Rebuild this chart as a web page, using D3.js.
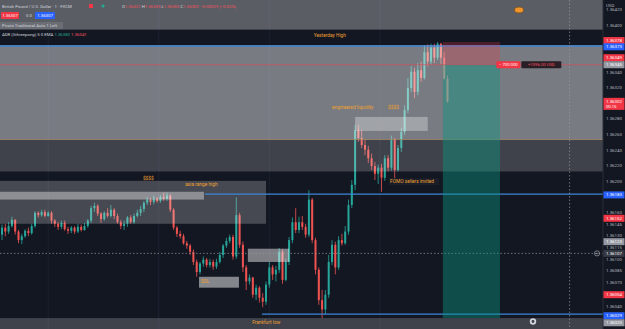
<!DOCTYPE html>
<html><head><meta charset="utf-8">
<script src="https://cdn.jsdelivr.net/npm/d3@7"></script>
<style>body{margin:0;background:#131722;overflow:hidden}svg{display:block;font-family:Roboto,"Noto Sans",sans-serif}</style>
</head><body><svg id="c" width="625" height="329"></svg>
<script>
const open=[1.36131,1.36140,1.36135,1.36142,1.36150,1.36135,1.36124,1.36129,1.36136,1.36133,
1.36142,1.36159,1.36156,1.36160,1.36155,1.36159,1.36149,1.36145,1.36141,1.36146,
1.36138,1.36136,1.36140,1.36135,1.36141,1.36137,1.36142,1.36149,1.36165,1.36168,
1.36158,1.36151,1.36159,1.36155,1.36163,1.36155,1.36147,1.36142,1.36145,1.36153,
1.36147,1.36155,1.36159,1.36164,1.36172,1.36176,1.36173,1.36177,1.36174,1.36179,
1.36177,1.36181,1.36163,1.36140,1.36132,1.36129,1.36120,1.36117,1.36109,1.36096,
1.36083,1.36094,1.36099,1.36092,1.36096,1.36090,1.36096,1.36105,1.36117,1.36123,
1.36128,1.36103,1.36156,1.36118,1.36089,1.36071,1.36076,1.36054,1.36063,1.36050,
1.36045,1.36067,1.36089,1.36080,1.36086,1.36109,1.36073,1.36096,1.36124,1.36147,
1.36137,1.36147,1.36141,1.36131,1.36176,1.36124,1.36086,1.36047,1.36035,1.36054,
1.36096,1.36118,1.36089,1.36124,1.36120,1.36135,1.36169,1.36195,1.36265,1.36255,
1.36246,1.36240,1.36229,1.36219,1.36209,1.36217,1.36204,1.36229,1.36217,1.36253,
1.36214,1.36242,1.36263,1.36291,1.36319,1.36340,1.36314,1.36342,1.36332,1.36365,
1.36353,1.36371,1.36358,1.36376,1.36358,1.36331];
const close=[1.36140,1.36135,1.36142,1.36150,1.36135,1.36124,1.36129,1.36136,1.36133,1.36142,
1.36159,1.36156,1.36160,1.36155,1.36159,1.36149,1.36145,1.36141,1.36146,1.36138,
1.36136,1.36140,1.36135,1.36141,1.36137,1.36142,1.36149,1.36165,1.36168,1.36158,
1.36151,1.36159,1.36155,1.36163,1.36155,1.36147,1.36142,1.36145,1.36153,1.36147,
1.36155,1.36159,1.36164,1.36172,1.36176,1.36173,1.36177,1.36174,1.36179,1.36177,
1.36181,1.36163,1.36140,1.36132,1.36129,1.36120,1.36117,1.36109,1.36096,1.36083,
1.36094,1.36099,1.36092,1.36096,1.36090,1.36096,1.36105,1.36117,1.36123,1.36128,
1.36103,1.36156,1.36118,1.36089,1.36071,1.36076,1.36054,1.36063,1.36050,1.36045,
1.36067,1.36089,1.36080,1.36086,1.36109,1.36073,1.36096,1.36124,1.36147,1.36137,
1.36147,1.36141,1.36131,1.36176,1.36124,1.36086,1.36047,1.36035,1.36054,1.36096,
1.36118,1.36089,1.36124,1.36120,1.36135,1.36169,1.36195,1.36265,1.36255,1.36246,
1.36240,1.36229,1.36219,1.36209,1.36217,1.36204,1.36229,1.36217,1.36253,1.36214,
1.36242,1.36263,1.36291,1.36319,1.36340,1.36314,1.36342,1.36332,1.36365,1.36353,
1.36371,1.36358,1.36376,1.36358,1.36331,1.36302];
const high=[1.36144,1.36145,1.36147,1.36154,1.36151,1.36137,1.36132,1.36138,1.36140,1.36145,
1.36161,1.36161,1.36163,1.36163,1.36161,1.36161,1.36151,1.36147,1.36149,1.36149,
1.36141,1.36142,1.36142,1.36145,1.36144,1.36146,1.36151,1.36168,1.36172,1.36170,
1.36160,1.36161,1.36165,1.36169,1.36165,1.36158,1.36150,1.36149,1.36155,1.36156,
1.36158,1.36163,1.36168,1.36174,1.36179,1.36178,1.36181,1.36179,1.36182,1.36185,
1.36185,1.36183,1.36165,1.36142,1.36136,1.36132,1.36123,1.36119,1.36112,1.36099,
1.36096,1.36103,1.36101,1.36100,1.36099,1.36100,1.36109,1.36119,1.36127,1.36131,
1.36131,1.36179,1.36159,1.36122,1.36092,1.36080,1.36077,1.36067,1.36065,1.36056,
1.36071,1.36096,1.36092,1.36091,1.36114,1.36112,1.36100,1.36128,1.36153,1.36165,
1.36154,1.36155,1.36145,1.36188,1.36178,1.36127,1.36089,1.36060,1.36060,1.36105,
1.36124,1.36122,1.36129,1.36132,1.36142,1.36176,1.36201,1.36272,1.36272,1.36265,
1.36253,1.36245,1.36235,1.36224,1.36221,1.36222,1.36233,1.36233,1.36258,1.36255,
1.36246,1.36268,1.36297,1.36332,1.36347,1.36345,1.36351,1.36353,1.36374,1.36375,
1.36376,1.36376,1.36378,1.36377,1.36365,1.36335];
const low=[1.36124,1.36129,1.36132,1.36140,1.36131,1.36120,1.36119,1.36127,1.36129,1.36131,
1.36140,1.36153,1.36154,1.36153,1.36154,1.36145,1.36141,1.36137,1.36138,1.36136,
1.36132,1.36133,1.36132,1.36133,1.36135,1.36136,1.36140,1.36146,1.36160,1.36155,
1.36146,1.36149,1.36153,1.36153,1.36151,1.36145,1.36138,1.36137,1.36141,1.36145,
1.36145,1.36153,1.36155,1.36160,1.36169,1.36169,1.36170,1.36172,1.36172,1.36174,
1.36174,1.36160,1.36137,1.36128,1.36126,1.36118,1.36113,1.36105,1.36092,1.36077,
1.36080,1.36090,1.36089,1.36089,1.36086,1.36087,1.36094,1.36101,1.36114,1.36120,
1.36099,1.36100,1.36114,1.36083,1.36060,1.36067,1.36050,1.36047,1.36044,1.36038,
1.36041,1.36063,1.36073,1.36071,1.36082,1.36068,1.36071,1.36092,1.36120,1.36133,
1.36133,1.36137,1.36127,1.36128,1.36120,1.36080,1.36041,1.36024,1.36029,1.36050,
1.36092,1.36080,1.36086,1.36117,1.36118,1.36131,1.36165,1.36188,1.36250,1.36242,
1.36233,1.36223,1.36214,1.36201,1.36196,1.36186,1.36200,1.36212,1.36213,1.36197,
1.36212,1.36237,1.36259,1.36287,1.36314,1.36306,1.36310,1.36327,1.36330,1.36347,
1.36349,1.36351,1.36355,1.36350,1.36330,1.36300];

const tickValues=[1.36420,1.36400,1.36340,1.36320,1.36280,1.36260,1.36240,1.36220,1.36200,1.36160,1.36145,1.36130,1.36115,1.36100,1.36085,1.36070,1.36040];
// price labels on the axis: value, displayed at, kind
const labelValues=[1.36378,1.36373,1.36349,1.36345,1.36302,1.36183,1.36152,1.36123,1.36107,1.36054,1.36029,1.36020];
const labelAt=[1.36380,1.36372,1.36358,1.36349,1.36302,1.36182,1.36152,1.36122,1.36107,1.36054,1.36027,1.36018];
const labelKind=["red","blue","red","gray","red","blue","red","gray","dark","red","blue","gray"];

// price levels
const yesterdayHigh=1.36373, entryPrice=1.36349, stopPrice=1.36378, targetPrice=1.36024;
const asiaHigh=1.36183, frankfurtLow=1.36029, pivotLevel=1.36253, crossPrice=1.36107;

const svg=d3.select("#c");
const W=625,H=329,PR=603;
const y=d3.scaleLinear().domain([1.36010,1.36432]).range([H,0]);
const x=d3.scaleLinear().domain([0,135]).range([2,447.5]);
const n=close.length;
const bw=2.0;
const UP="#26a69a",DN="#ef5350";

svg.append("rect").attr("width",W).attr("height",H).attr("fill","#131722");

// faint grid
const grid=svg.append("g").attr("stroke","#1c2130").attr("stroke-width",1);
[14,47.5,81,114.5].forEach(i=>grid.append("line").attr("x1",x(i)).attr("x2",x(i)).attr("y1",0).attr("y2",H));

// candles
const cg=svg.append("g");
d3.range(n).forEach(i=>{
  const c=close[i]>=open[i]?UP:DN;
  cg.append("line").attr("x1",x(i)).attr("x2",x(i)).attr("y1",y(high[i])).attr("y2",y(low[i])).attr("stroke",c).attr("stroke-width",0.8);
  const top=y(Math.max(open[i],close[i])),bot=y(Math.min(open[i],close[i]));
  cg.append("rect").attr("x",x(i)-bw/2).attr("width",bw).attr("y",top).attr("height",Math.max(0.8,bot-top)).attr("fill",c);
});

// zone overlays
const ov=svg.append("g");
function zone(i0,i1,p0,p1,op,fill){
  const xa=i0===null?0:x(i0), xb=i1===null?PR:x(i1);
  ov.append("rect").attr("x",xa).attr("width",xb-xa).attr("y",y(p0)).attr("height",y(p1)-y(p0)).attr("fill",fill||"#ffffff").attr("opacity",op);
}
zone(null,null,1.36432,1.36394,0.30);
zone(null,null,1.36372,pivotLevel,0.43);
zone(null,null,pivotLevel,1.36212,0.19);
zone(null,80,1.36200,1.36145,0.22);
zone(null,61.2,1.36186,1.36176,0.38);
zone(107,129,1.36282,1.36264,0.30);
zone(59.7,71.8,1.36077,1.36063,0.48);
zone(74.5,87,1.36113,1.36096,0.45);
zone(null,null,1.36024,1.36010,0.19);

// lines
const ln=svg.append("g");
ln.append("line").attr("x1",0).attr("x2",PR).attr("y1",y(yesterdayHigh)).attr("y2",y(yesterdayHigh)).attr("stroke","#5d9cec").attr("stroke-width",1.4);
ln.append("line").attr("x1",0).attr("x2",PR).attr("y1",y(entryPrice)).attr("y2",y(entryPrice)).attr("stroke","#e04b5a").attr("stroke-width",0.8).attr("opacity",0.8);
ln.append("line").attr("x1",0).attr("x2",PR).attr("y1",y(pivotLevel)).attr("y2",y(pivotLevel)).attr("stroke","#a88a66").attr("stroke-width",0.8);
ln.append("line").attr("x1",x(61.5)).attr("x2",PR).attr("y1",y(asiaHigh)).attr("y2",y(asiaHigh)).attr("stroke","#3d86d8").attr("stroke-width",1.2);
ln.append("line").attr("x1",x(78.8)).attr("x2",PR).attr("y1",y(frankfurtLow)).attr("y2",y(frankfurtLow)).attr("stroke","#3d86d8").attr("stroke-width",1.2);
// crosshair
ln.append("line").attr("x1",0).attr("x2",PR).attr("y1",y(crossPrice)).attr("y2",y(crossPrice)).attr("stroke","#9598a1").attr("stroke-dasharray","1.5,2").attr("stroke-width",0.7);
ln.append("line").attr("x1",x(172)).attr("x2",x(172)).attr("y1",0).attr("y2",H).attr("stroke","#9598a1").attr("stroke-dasharray","1.5,2").attr("stroke-width",0.7);

// position tool
const pos=svg.append("g");
pos.append("rect").attr("x",x(133.6)).attr("width",x(150.9)-x(133.6)).attr("y",y(stopPrice)).attr("height",y(entryPrice)-y(stopPrice)).attr("fill","#f23645").attr("opacity",0.28);
pos.append("rect").attr("x",x(133.6)).attr("width",x(150.9)-x(133.6)).attr("y",y(entryPrice)).attr("height",y(targetPrice)-y(entryPrice)).attr("fill","#089981").attr("opacity",0.42);
pos.append("rect").attr("x",x(149.8)).attr("y",y(entryPrice)-3.5).attr("width",24).attr("height",7).attr("rx",1).attr("fill","#f23645");
pos.append("text").attr("x",x(149.8)+12).attr("y",y(entryPrice)).attr("dy","0.35em").attr("text-anchor","middle").attr("font-size",4.2).attr("fill","#fff").text("− 700 000");
pos.append("rect").attr("x",x(149.8)+25).attr("y",y(entryPrice)-3.5).attr("width",40).attr("height",7).attr("rx",1).attr("fill","#2a1e26");
pos.append("text").attr("x",x(149.8)+45).attr("y",y(entryPrice)).attr("dy","0.35em").attr("text-anchor","middle").attr("font-size",4.2).attr("fill","#f7525f").text("+1096.00 USD");

// annotation texts
const OR="#f0a030";
const tx=svg.append("g").attr("font-size",4.8).attr("fill",OR);
function note(i,p,t){tx.append("text").attr("x",x(i)).attr("y",y(p)).attr("dy","0.35em").text(t);}
note(94.5,1.36387,"Yesterday High");
note(42.7,1.36203,"$$$$");
note(55.5,1.36195,"asia range high");
note(100,1.36294,"engineered liquidity");
note(117,1.36294,"$$$$");
tx.append("rect").attr("x",x(117.3)).attr("y",y(1.36199)-3.5).attr("width",50).attr("height",7).attr("fill","#1b1f2a");
note(117.6,1.36199,"FOMO sellers invited");
note(60.3,1.36071,"SSL");
note(75.8,1.36018,"Frankfurt low");

// header
const hd=svg.append("g").attr("font-size",4.3).attr("fill","#d1d4dc");
hd.append("text").attr("x",2).attr("y",7.5).text("British Pound / U.S. Dollar · 1 · FXCM");
hd.append("rect").attr("x",89).attr("y",4).attr("width",4).attr("height",4).attr("fill","#f23645");
hd.append("circle").attr("cx",103).attr("cy",6).attr("r",1.6).attr("fill","#22ab94");
const ohlc=hd.append("text").attr("x",122).attr("y",7.5);
[["O",open[n-1]],["H",high[n-1]],["L",1.36305],["C",close[n-1]]].forEach(([k,v])=>{
  ohlc.append("tspan").attr("fill","#d1d4dc").text(k);
  ohlc.append("tspan").attr("fill","#f7525f").text(v.toFixed(5)+" ");
});
ohlc.append("tspan").attr("fill","#f7525f").text("−0.00029 (−0.02%)");
hd.append("rect").attr("x",1).attr("y",12).attr("width",18).attr("height",7).attr("rx",1).attr("fill","#f23645");
hd.append("text").attr("x",10).attr("y",15.5).attr("dy","0.35em").attr("text-anchor","middle").attr("fill","#fff").text("1.36307");
hd.append("text").attr("x",26).attr("y",15.5).attr("dy","0.35em").text("0.0");
hd.append("rect").attr("x",35).attr("y",12).attr("width",20).attr("height",7).attr("rx",1).attr("fill","#2962ff");
hd.append("text").attr("x",45).attr("y",15.5).attr("dy","0.35em").attr("text-anchor","middle").attr("fill","#fff").text("1.36307");
hd.append("rect").attr("x",0).attr("y",22).attr("width",63).attr("height",7).attr("fill","#ffffff").attr("opacity",0.1);
hd.append("text").attr("x",2).attr("y",25.5).attr("dy","0.35em").text("Pivots Traditional Auto 1 Left");
const adr=hd.append("text").attr("x",2).attr("y",34).attr("dy","0.35em");
adr.append("tspan").text("ADR (Sthreepong) 5 0 EMA  ");
adr.append("tspan").attr("fill","#22ab94").text("1.36383  ");
adr.append("tspan").attr("fill","#f7525f").text("1.36041");
// alert icon
svg.append("ellipse").attr("cx",519).attr("cy",10).attr("rx",4.5).attr("ry",3).attr("fill","#f0932b").attr("stroke","#7a5220").attr("stroke-width",0.8);
svg.append("circle").attr("cx",533).attr("cy",321.5).attr("r",3.2).attr("fill","#d1d4dc");
svg.append("circle").attr("cx",533).attr("cy",321.5).attr("r",1.4).attr("fill","#3b3e47");

// price axis
const ax=svg.append("g").attr("transform",`translate(${PR},0)`);
ax.append("rect").attr("width",W-PR).attr("height",H).attr("fill","#131722");
ax.append("line").attr("y1",0).attr("y2",H).attr("stroke","#2a2e39");
const axis=d3.axisRight(y).tickValues(tickValues).tickSize(0).tickPadding(3).tickFormat(d3.format(".5f"));
ax.append("g").call(axis).call(g=>g.select(".domain").remove()).selectAll("text").attr("font-size",4.4).attr("fill","#b2b5be").attr("font-family","Roboto,sans-serif");
ax.append("text").attr("x",3).attr("y",5).attr("dy","0.35em").attr("font-size",4.4).attr("fill","#b2b5be").text("USD");
const kindFill={red:"#f23645",blue:"#2962ff",gray:"#9598a1",dark:"#363a45"};
labelValues.forEach((v,i)=>{
  const yy=y(labelAt[i]);
  const h=labelValues[i]===1.36302?12:7;
  ax.append("rect").attr("x",0.5).attr("y",yy-3.5).attr("width",W-PR-1).attr("height",h).attr("fill",kindFill[labelKind[i]]);
  ax.append("text").attr("x",3).attr("y",yy).attr("dy","0.35em").attr("font-size",4.4).attr("fill","#fff").text(v.toFixed(5));
  if(h>7) ax.append("text").attr("x",3).attr("y",yy+5.5).attr("dy","0.35em").attr("font-size",4.2).attr("fill","#fff").text("00:15");
});
svg.append("circle").attr("cx",597).attr("cy",y(crossPrice)).attr("r",2.6).attr("fill","none").attr("stroke","#b2b5be").attr("stroke-width",0.6);
svg.append("text").attr("x",597).attr("y",y(crossPrice)).attr("dy","0.35em").attr("text-anchor","middle").attr("font-size",4).attr("fill","#b2b5be").text("+");
</script></body></html>
